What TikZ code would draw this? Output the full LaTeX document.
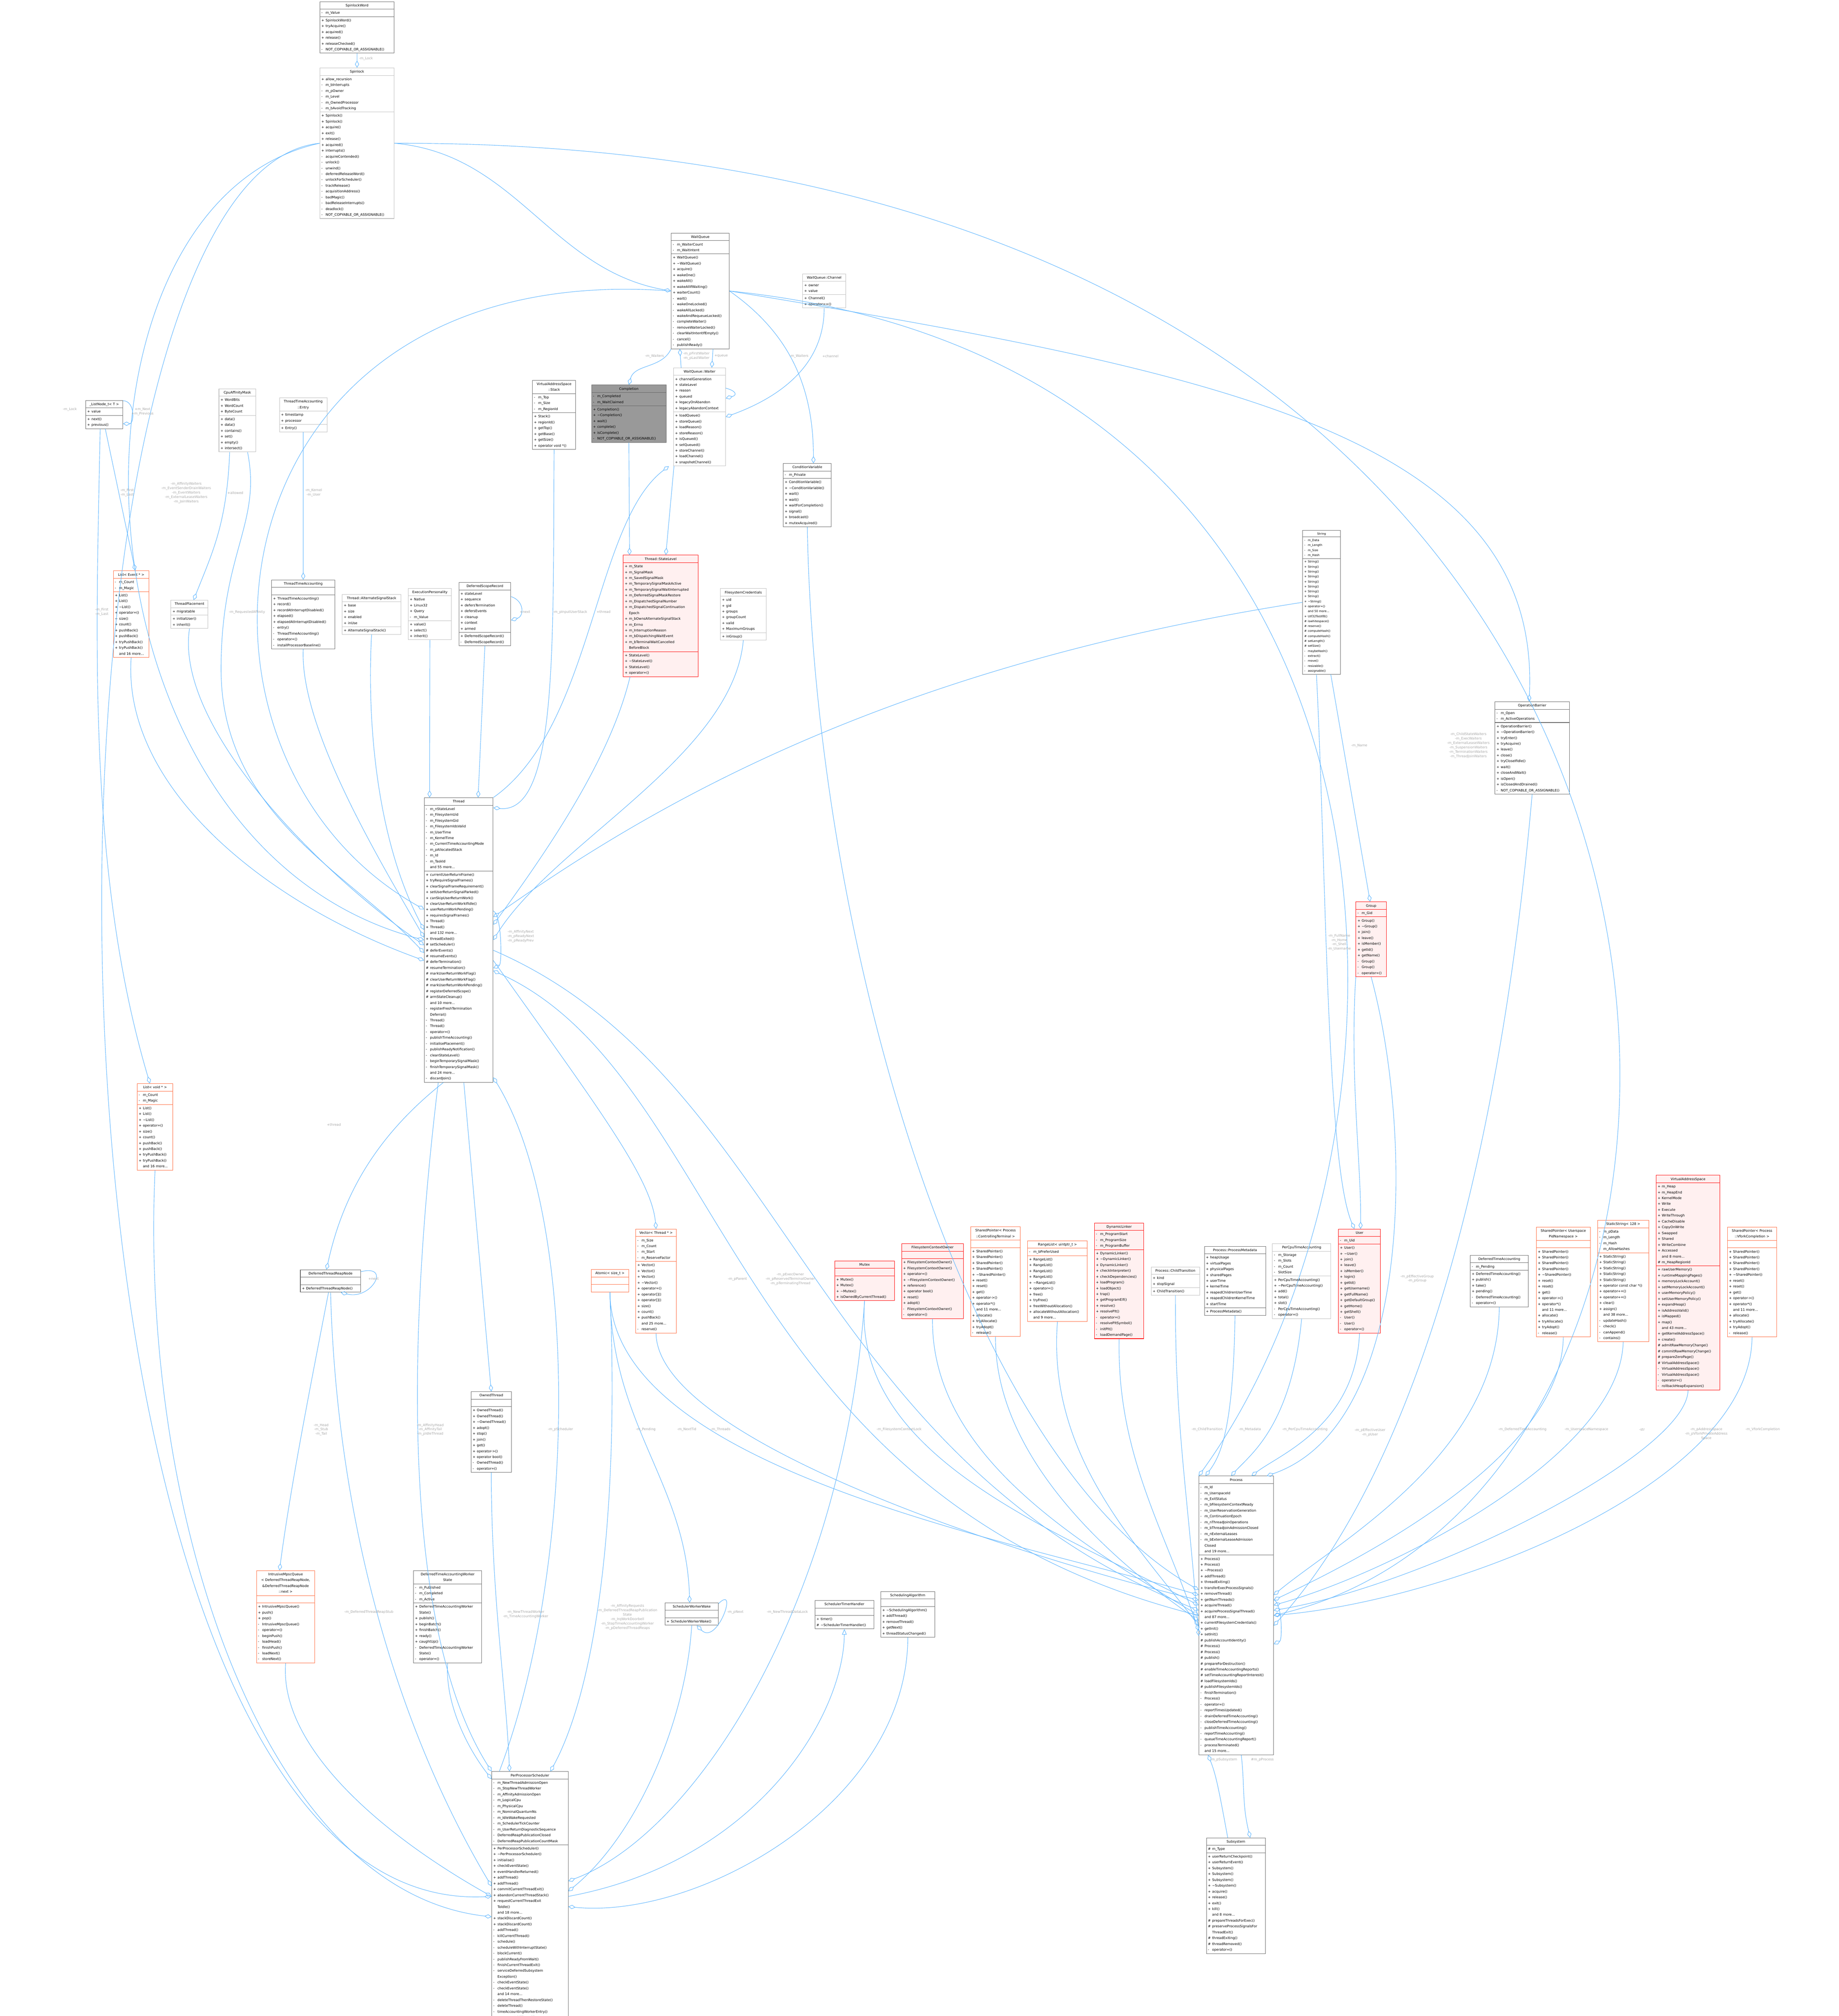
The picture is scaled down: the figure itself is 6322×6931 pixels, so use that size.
\documentclass[tikz,border=0pt]{standalone}
\usepackage{fontspec}
\setmainfont{DejaVu Sans}
\usetikzlibrary{shapes.multipart,arrows.meta}
\definecolor{edgeblue}{HTML}{63B8FF}
\definecolor{lblgray}{HTML}{A8A8A8}
\definecolor{dkgray}{HTML}{666666}
\definecolor{ltgray}{HTML}{BFBFBF}
\definecolor{redfill}{HTML}{FFF0F0}
\definecolor{orng}{HTML}{FF6A3D}
\definecolor{hlgray}{HTML}{999999}
\newcommand\rw[2]{\noindent\strut\makebox[1.25em][l]{#1}#2\par}
\newcommand\Pa[1]{\rw{+}{#1}}
\newcommand\Mi[1]{\rw{-}{#1}}
\newcommand\Ha[1]{\rw{\#}{#1}}
\newcommand\No[1]{\rw{}{#1}}
\newcommand\tld{\textasciitilde}
\newcommand\ttl[1]{\noindent\strut\makebox[\hsize][c]{#1}\par}
\newcommand\cls[8]{\pgfmathsetmacro\tw{0.02*#5-0.22}\node[#2,text width=\tw cm] (#1) at (#3,#4) {#6\nodepart{two}#7\nodepart{three}#8};}
\tikzset{
 cbase/.style={rectangle split, rectangle split parts=3, draw, line width=0.8pt, inner xsep=3pt, inner ysep=1.2pt, anchor=north west, font=\fontsize{6.6}{11.4}\selectfont, text=black},
 dk/.style={cbase, draw=dkgray},
 lt/.style={cbase, draw=ltgray},
 rd/.style={cbase, draw=red, fill=redfill},
 og/.style={cbase, draw=orng},
 hl/.style={cbase, draw=dkgray, fill=hlgray},
 sm/.style={font=\fontsize{5.7}{9.7}\selectfont},
 agg/.style={draw=edgeblue, line width=0.9pt, -{Diamond[open,length=14pt,width=8pt,line width=0.9pt]}},
 inh/.style={draw=edgeblue, line width=0.9pt, -{Triangle[open,length=11pt,width=9pt,line width=0.9pt]}},
 lbl/.style={text=lblgray, font=\fontsize{6.6}{8.6}\selectfont, align=center, inner sep=1pt},
}
\begin{document}
\catcode`\_=12
\begin{tikzpicture}[x=0.02cm,y=-0.02cm]
\useasboundingbox (0,0) rectangle (6322,6931);
\fill[white] (0,0) rectangle (6322,6931);

% ---------------- classes ----------------
\cls{SW}{dk}{1099}{5}{256}{\ttl{SpinlockWord}}{\Mi{m_Value}}{\Pa{SpinlockWord()}\Pa{tryAcquire()}\Pa{acquired()}\Pa{release()}\Pa{releaseChecked()}\Mi{NOT_COPYABLE_OR_ASSIGNABLE()}}
\cls{SL}{lt}{1099}{233}{256}{\ttl{Spinlock}}{\Pa{allow_recursion}\Mi{m_bInterrupts}\Mi{m_pOwner}\Mi{m_Level}\Mi{m_OwnedProcessor}\Mi{m_bAvoidTracking}}{\Pa{Spinlock()}\Pa{Spinlock()}\Pa{acquire()}\Pa{exit()}\Pa{release()}\Pa{acquired()}\Pa{interrupts()}\Mi{acquireContended()}\Mi{unlock()}\Mi{unwind()}\Mi{deferredReleaseWord()}\Mi{unlockForScheduler()}\Mi{trackRelease()}\Mi{acquisitionAddress()}\Mi{badMagic()}\Mi{badReleaseInterrupts()}\Mi{deadlock()}\Mi{NOT_COPYABLE_OR_ASSIGNABLE()}}
\cls{WQ}{dk}{2307}{801}{200}{\ttl{WaitQueue}}{\Mi{m_WaiterCount}\Mi{m_WaitIntent}}{\Pa{WaitQueue()}\Pa{\tld WaitQueue()}\Pa{acquire()}\Pa{wakeOne()}\Pa{wakeAll()}\Pa{wakeAllIfWaiting()}\Pa{waiterCount()}\Mi{wait()}\Mi{wakeOneLocked()}\Mi{wakeAllLocked()}\Mi{wakeAndRequeueLocked()}\Mi{completeWaiter()}\Mi{removeWaiterLocked()}\Mi{clearWaitIntentIfEmpty()}\Mi{cancel()}\Mi{publishReady()}}
\cls{CH}{lt}{2759}{941}{148}{\ttl{WaitQueue::Channel}}{\Pa{owner}\Pa{value}}{\Pa{Channel()}\Pa{operator==()}}
\cls{WW}{lt}{2315}{1264}{179}{\ttl{WaitQueue::Waiter}}{\Pa{channelGeneration}\Pa{stateLevel}\Pa{reason}\Pa{queued}\Pa{legacyOnAbandon}\Pa{legacyAbandonContext}}{\Pa{loadQueue()}\Pa{storeQueue()}\Pa{loadReason()}\Pa{storeReason()}\Pa{isQueued()}\Pa{setQueued()}\Pa{storeChannel()}\Pa{loadChannel()}\Pa{snapshotChannel()}}
\cls{CO}{hl}{2033}{1323}{257}{\ttl{Completion}}{\Mi{m_Completed}\Mi{m_WaitClaimed}}{\Pa{Completion()}\Pa{\tld Completion()}\Pa{wait()}\Pa{complete()}\Pa{isComplete()}\Mi{NOT_COPYABLE_OR_ASSIGNABLE()}}
\cls{ST}{dk}{1830}{1307}{149}{\ttl{VirtualAddressSpace}\ttl{::Stack}}{\Mi{m_Top}\Mi{m_Size}\Mi{m_RegionId}}{\Pa{Stack()}\Pa{regionId()}\Pa{getTop()}\Pa{getBase()}\Pa{getSize()}\Pa{operator void *()}}
\cls{LN}{dk}{294}{1376}{128}{\ttl{_ListNode_t< T >}}{\Pa{value}}{\Pa{next()}\Pa{previous()}}
\cls{CAM}{lt}{752}{1336}{127}{\ttl{CpuAffinityMask}}{\Pa{WordBits}\Pa{WordCount}\Pa{ByteCount}}{\Pa{data()}\Pa{data()}\Pa{contains()}\Pa{set()}\Pa{empty()}\Pa{intersect()}}
\cls{EN}{lt}{960}{1367}{164}{\ttl{ThreadTimeAccounting}\ttl{::Entry}}{\Pa{timestamp}\Pa{processor}}{\Pa{Entry()}}
\cls{LE}{og}{389}{1962}{123}{\ttl{List< Event * >}}{\Mi{m_Count}\Mi{m_Magic}}{\Pa{List()}\Pa{List()}\Pa{\tld List()}\Pa{operator=()}\Pa{size()}\Pa{count()}\Pa{pushBack()}\Pa{pushBack()}\Pa{tryPushBack()}\Pa{tryPushBack()}\No{and 16 more...}}
\cls{LV}{og}{471}{3725}{123}{\ttl{List< void * >}}{\Mi{m_Count}\Mi{m_Magic}}{\Pa{List()}\Pa{List()}\Pa{\tld List()}\Pa{operator=()}\Pa{size()}\Pa{count()}\Pa{pushBack()}\Pa{pushBack()}\Pa{tryPushBack()}\Pa{tryPushBack()}\No{and 16 more...}}
\cls{TP}{lt}{587}{2063}{128}{\ttl{ThreadPlacement}}{\Pa{migratable}}{\Pa{initialUser()}\Pa{inherit()}}
\cls{TTA}{dk}{933}{1993}{218}{\ttl{ThreadTimeAccounting}}{\No{}}{\Pa{ThreadTimeAccounting()}\Pa{record()}\Pa{recordAtInterruptDisabled()}\Pa{elapsed()}\Pa{elapsedAtInterruptDisabled()}\Mi{entry()}\Mi{ThreadTimeAccounting()}\Mi{operator=()}\Mi{installProcessorBaseline()}}
\cls{ASS}{lt}{1176}{2043}{202}{\ttl{Thread::AlternateSignalStack}}{\Pa{base}\Pa{size}\Pa{enabled}\Pa{inUse}}{\Pa{AlternateSignalStack()}}
\cls{EP}{lt}{1403}{2022}{149}{\ttl{ExecutionPersonality}}{\Pa{Native}\Pa{Linux32}\Pa{Query}\Mi{m_Value}}{\Pa{value()}\Pa{select()}\Pa{inherit()}}
\cls{DSR}{dk}{1577}{2002}{179}{\ttl{DeferredScopeRecord}}{\Pa{stateLevel}\Pa{sequence}\Pa{defersTermination}\Pa{defersEvents}\Pa{cleanup}\Pa{context}\Pa{armed}}{\Pa{DeferredScopeRecord()}\Mi{DeferredScopeRecord()}}
\cls{SLV}{rd}{2142}{1908}{258}{\ttl{Thread::StateLevel}}{\Pa{m_State}\Pa{m_SignalMask}\Pa{m_SavedSignalMask}\Pa{m_TemporarySignalMaskActive}\Pa{m_TemporarySignalWaitInterrupted}\Pa{m_DeferredSignalMaskRestore}\Pa{m_DispatchedSignalNumber}\Pa{m_DispatchedSignalContinuation}\No{Epoch}\Pa{m_bOwnsAlternateSignalStack}\Pa{m_Errno}\Pa{m_InterruptionReason}\Pa{m_bDispatchingWaitEvent}\Pa{m_bTerminalWaitCancelled}\No{BeforeBlock}}{\Pa{StateLevel()}\Pa{\tld StateLevel()}\Pa{StateLevel()}\Pa{operator=()}}
\cls{FC}{lt}{2476}{2023}{158}{\ttl{FilesystemCredentials}}{\Pa{uid}\Pa{gid}\Pa{groups}\Pa{groupCount}\Pa{valid}\Pa{MaximumGroups}}{\Pa{inGroup()}}
\cls{CV}{dk}{2692}{1593}{166}{\ttl{ConditionVariable}}{\Mi{m_Private}}{\Pa{ConditionVariable()}\Pa{\tld ConditionVariable()}\Pa{wait()}\Pa{wait()}\Pa{waitForCompletion()}\Pa{signal()}\Pa{broadcast()}\Pa{mutexAcquired()}}
\cls{STR}{dk,sm}{4478}{1823}{130}{\ttl{String}}{\Mi{m_Data}\Mi{m_Length}\Mi{m_Size}\Mi{m_Hash}}{\Pa{String()}\Pa{String()}\Pa{String()}\Pa{String()}\Pa{String()}\Pa{String()}\Pa{String()}\Pa{String()}\Pa{\tld String()}\Pa{operator=()}\No{and 50 more...}\Pa{Utf32ToUtf8()}\Ha{iswhitespace()}\Ha{reserve()}\Ha{computeHash()}\Ha{computeHash()}\Ha{setLength()}\Ha{setSize()}\Mi{maybeHash()}\Mi{extract()}\Mi{move()}\Mi{resizable()}\Mi{assignable()}}
\cls{OB}{dk}{5139}{2412}{256}{\ttl{OperationBarrier}}{\Mi{m_Open}\Mi{m_ActiveOperations}}{\Pa{OperationBarrier()}\Pa{\tld OperationBarrier()}\Pa{tryEnter()}\Pa{tryAcquire()}\Pa{leave()}\Pa{close()}\Pa{tryCloseIfIdle()}\Pa{wait()}\Pa{closeAndWait()}\Pa{isOpen()}\Pa{isClosedAndDrained()}\Mi{NOT_COPYABLE_OR_ASSIGNABLE()}}
\cls{GR}{rd}{4661}{3100}{105}{\ttl{Group}}{\Mi{m_Gid}}{\Pa{Group()}\Pa{\tld Group()}\Pa{join()}\Pa{leave()}\Pa{isMember()}\Pa{getId()}\Pa{getName()}\Mi{Group()}\Mi{Group()}\Mi{operator=()}}
\cls{TH}{dk}{1458}{2742}{237}{\ttl{Thread}}{\Mi{m_nStateLevel}\Mi{m_FilesystemUid}\Mi{m_FilesystemGid}\Mi{m_FilesystemIdsValid}\Mi{m_UserTime}\Mi{m_KernelTime}\Mi{m_CurrentTimeAccountingMode}\Mi{m_pAllocatedStack}\Mi{m_Id}\Mi{m_TaskId}\No{and 55 more...}}{\Pa{currentUserReturnFrame()}\Pa{tryRequireSignalFrames()}\Pa{clearSignalFrameRequirement()}\Pa{setUserReturnSignalParked()}\Pa{canSkipUserReturnWork()}\Pa{clearUserReturnWorkIfIdle()}\Pa{userReturnWorkPending()}\Pa{requiresSignalFrames()}\Pa{Thread()}\Pa{Thread()}\No{and 132 more...}\Pa{threadExited()}\Ha{setScheduler()}\Ha{deferEvents()}\Ha{resumeEvents()}\Ha{deferTermination()}\Ha{resumeTermination()}\Ha{markUserReturnWorkFlag()}\Ha{clearUserReturnWorkFlag()}\Ha{markUserReturnWorkPending()}\Ha{registerDeferredScope()}\Ha{armStateCleanup()}\No{and 10 more...}\Mi{registerFreshTermination}\No{Deferral()}\Mi{Thread()}\Mi{Thread()}\Mi{operator=()}\Mi{publishTimeAccounting()}\Mi{initialisePlacement()}\Mi{publishReadyNotification()}\Mi{cleanStateLevel()}\Mi{beginTemporarySignalMask()}\Mi{finishTemporarySignalMask()}\No{and 24 more...}\Mi{discardJoin()}}
\cls{DTRN}{dk}{1032}{4365}{208}{\ttl{DeferredThreadReapNode}}{\No{}}{\Pa{DeferredThreadReapNode()}}
\cls{AT}{og}{2032}{4364}{129}{\ttl{Atomic< size_t >}}{\No{}}{\No{}}
\cls{VT}{og}{2185}{4225}{140}{\ttl{Vector< Thread * >}}{\Mi{m_Size}\Mi{m_Count}\Mi{m_Start}\Mi{m_ReserveFactor}}{\Pa{Vector()}\Pa{Vector()}\Pa{Vector()}\Pa{\tld Vector()}\Pa{operator=()}\Pa{operator[]()}\Pa{operator[]()}\Pa{size()}\Pa{count()}\Pa{pushBack()}\No{and 25 more...}\Mi{reserve()}}
\cls{MX}{rd}{2869}{4334}{206}{\ttl{Mutex}}{\No{}}{\Pa{Mutex()}\Pa{Mutex()}\Pa{\tld Mutex()}\Pa{isOwnedByCurrentThread()}}
\cls{FCO}{rd}{3099}{4275}{213}{\ttl{FilesystemContextOwner}}{\No{}}{\Pa{FilesystemContextOwner()}\Pa{FilesystemContextOwner()}\Pa{operator=()}\Pa{\tld FilesystemContextOwner()}\Pa{reference()}\Pa{operator bool()}\Pa{reset()}\Pa{adopt()}\Mi{FilesystemContextOwner()}\Mi{operator=()}}
\cls{SPCT}{og}{3336}{4217}{172}{\ttl{SharedPointer< Process}\ttl{::ControllingTerminal >}}{\No{}}{\Pa{SharedPointer()}\Pa{SharedPointer()}\Pa{SharedPointer()}\Pa{SharedPointer()}\Pa{\tld SharedPointer()}\Pa{reset()}\Pa{reset()}\Pa{get()}\Pa{operator->()}\Pa{operator*()}\No{and 11 more...}\Pa{allocate()}\Pa{tryAllocate()}\Pa{tryAdopt()}\Mi{release()}}
\cls{RL}{og}{3532}{4265}{206}{\ttl{RangeList< uintptr_t >}}{\Mi{m_bPreferUsed}}{\Pa{RangeList()}\Pa{RangeList()}\Pa{RangeList()}\Pa{RangeList()}\Pa{\tld RangeList()}\Pa{operator=()}\Pa{free()}\Pa{tryFree()}\Pa{freeWithoutAllocation()}\Pa{allocateWithoutAllocation()}\No{and 9 more...}}
\cls{DL}{rd}{3762}{4204}{170}{\ttl{DynamicLinker}}{\Mi{m_ProgramStart}\Mi{m_ProgramSize}\Mi{m_ProgramBuffer}}{\Pa{DynamicLinker()}\Pa{\tld DynamicLinker()}\Pa{DynamicLinker()}\Pa{checkInterpreter()}\Pa{checkDependencies()}\Pa{loadProgram()}\Pa{loadObject()}\Pa{trap()}\Pa{getProgramElf()}\Pa{resolve()}\Pa{resolvePlt()}\Mi{operator=()}\Mi{resolvePltSymbol()}\Mi{initPlt()}\Mi{loadDemandPage()}}
\cls{CT}{lt}{3957}{4355}{167}{\ttl{Process::ChildTransition}}{\Pa{kind}\Pa{stopSignal}}{\Pa{ChildTransition()}}
\cls{PM}{dk}{4140}{4284}{211}{\ttl{Process::ProcessMetadata}}{\Pa{heapUsage}\Pa{virtualPages}\Pa{physicalPages}\Pa{sharedPages}\Pa{userTime}\Pa{kernelTime}\Pa{reapedChildrenUserTime}\Pa{reapedChildrenKernelTime}\Pa{startTime}}{\Pa{ProcessMetadata()}}
\cls{PC}{lt}{4374}{4275}{201}{\ttl{PerCpuTimeAccounting}}{\Mi{m_Storage}\Mi{m_Slots}\Mi{m_Count}\Mi{SlotSize}}{\Pa{PerCpuTimeAccounting()}\Pa{\tld PerCpuTimeAccounting()}\Pa{add()}\Pa{total()}\Pa{slot()}\Mi{PerCpuTimeAccounting()}\Mi{operator=()}}
\cls{US}{rd}{4601}{4225}{145}{\ttl{User}}{\Mi{m_Uid}}{\Pa{User()}\Pa{\tld User()}\Pa{join()}\Pa{leave()}\Pa{isMember()}\Pa{login()}\Pa{getId()}\Pa{getUsername()}\Pa{getFullName()}\Pa{getDefaultGroup()}\Pa{getHome()}\Pa{getShell()}\Mi{User()}\Mi{User()}\Mi{operator=()}}
\cls{DTA}{dk}{5054}{4315}{200}{\ttl{DeferredTimeAccounting}}{\Mi{m_Pending}}{\Pa{DeferredTimeAccounting()}\Pa{publish()}\Pa{take()}\Pa{pending()}\Mi{DeferredTimeAccounting()}\Mi{operator=()}}
\cls{SPUP}{og}{5281}{4218}{186}{\ttl{SharedPointer< Userspace}\ttl{PidNamespace >}}{\No{}}{\Pa{SharedPointer()}\Pa{SharedPointer()}\Pa{SharedPointer()}\Pa{SharedPointer()}\Pa{\tld SharedPointer()}\Pa{reset()}\Pa{reset()}\Pa{get()}\Pa{operator->()}\Pa{operator*()}\No{and 11 more...}\Pa{allocate()}\Pa{tryAllocate()}\Pa{tryAdopt()}\Mi{release()}}
\cls{SS}{og}{5492}{4195}{176}{\ttl{StaticString< 128 >}}{\Mi{m_pData}\Mi{m_Length}\Mi{m_Hash}\Mi{m_AllowHashes}}{\Pa{StaticString()}\Pa{StaticString()}\Pa{StaticString()}\Pa{StaticString()}\Pa{StaticString()}\Pa{operator const char *()}\Pa{operator+=()}\Pa{operator+=()}\Pa{clear()}\Pa{assign()}\No{and 38 more...}\Mi{updateHash()}\Mi{check()}\Mi{canAppend()}\Mi{contains()}}
\cls{VAS}{rd}{5693}{4040}{220}{\ttl{VirtualAddressSpace}}{\Pa{m_Heap}\Pa{m_HeapEnd}\Pa{KernelMode}\Pa{Write}\Pa{Execute}\Pa{WriteThrough}\Pa{CacheDisable}\Pa{CopyOnWrite}\Pa{Swapped}\Pa{Shared}\Pa{WriteCombine}\Pa{Accessed}\No{and 8 more...}\Ha{m_HeapRegionId}}{\Pa{rawUserMemory()}\Pa{runtimeMappingPages()}\Pa{memoryLockAccount()}\Pa{setMemoryLockAccount()}\Pa{userMemoryPolicy()}\Pa{setUserMemoryPolicy()}\Pa{expandHeap()}\Pa{isAddressValid()}\Pa{isMapped()}\Pa{map()}\No{and 43 more...}\Pa{getKernelAddressSpace()}\Pa{create()}\Ha{admitRawMemoryChange()}\Ha{commitRawMemoryChange()}\Ha{prepareZeroPage()}\Ha{VirtualAddressSpace()}\Mi{VirtualAddressSpace()}\Mi{VirtualAddressSpace()}\Mi{operator=()}\Mi{rollbackHeapExpansion()}}
\cls{SPVC}{og}{5938}{4218}{170}{\ttl{SharedPointer< Process}\ttl{::VforkCompletion >}}{\No{}}{\Pa{SharedPointer()}\Pa{SharedPointer()}\Pa{SharedPointer()}\Pa{SharedPointer()}\Pa{\tld SharedPointer()}\Pa{reset()}\Pa{reset()}\Pa{get()}\Pa{operator->()}\Pa{operator*()}\No{and 11 more...}\Pa{allocate()}\Pa{tryAllocate()}\Pa{tryAdopt()}\Mi{release()}}
\cls{OT}{dk}{1619}{4784}{139}{\ttl{OwnedThread}}{\No{}}{\Pa{OwnedThread()}\Pa{OwnedThread()}\Pa{\tld OwnedThread()}\Pa{adopt()}\Pa{stop()}\Pa{join()}\Pa{get()}\Pa{operator->()}\Pa{operator bool()}\Mi{OwnedThread()}\Mi{operator=()}}
\cls{IMQ}{og}{881}{5399}{201}{\ttl{IntrusiveMpscQueue}\ttl{< DeferredThreadReapNode,}\ttl{\&DeferredThreadReapNode}\ttl{::next >}}{\No{}}{\Pa{IntrusiveMpscQueue()}\Pa{push()}\Pa{pop()}\Mi{IntrusiveMpscQueue()}\Mi{operator=()}\Mi{beginPush()}\Mi{loadHead()}\Mi{finishPush()}\Mi{loadNext()}\Mi{storeNext()}}
\cls{DTAW}{dk}{1421}{5399}{235}{\ttl{DeferredTimeAccountingWorker}\ttl{State}}{\Mi{m_Published}\Mi{m_Completed}\Mi{m_Active}}{\Pa{DeferredTimeAccountingWorker}\No{State()}\Pa{publish()}\Pa{beginBatch()}\Pa{finishBatch()}\Pa{ready()}\Pa{caughtUp()}\Mi{DeferredTimeAccountingWorker}\No{State()}\Mi{operator=()}}
\cls{SWW}{dk}{2286}{5510}{183}{\ttl{SchedulerWorkerWake}}{\No{}}{\Pa{SchedulerWorkerWake()}}
\cls{STH}{dk}{2801}{5502}{203}{\ttl{SchedulerTimerHandler}}{\No{}}{\Pa{timer()}\Ha{\tld SchedulerTimerHandler()}}
\cls{SA}{dk}{3027}{5471}{187}{\ttl{SchedulingAlgorithm}}{\No{}}{\Pa{\tld SchedulingAlgorithm()}\Pa{addThread()}\Pa{removeThread()}\Pa{getNext()}\Pa{threadStatusChanged()}}
\cls{PR}{dk}{4121}{5074}{257}{\ttl{Process}}{\Mi{m_Id}\Mi{m_UserspaceId}\Mi{m_ExitStatus}\Mi{m_bFilesystemContextReady}\Mi{m_UserReservationGeneration}\Mi{m_ContinuationEpoch}\Mi{m_nThreadJoinOperations}\Mi{m_bThreadJoinAdmissionClosed}\Mi{m_nExternalLeases}\Mi{m_bExternalLeaseAdmission}\No{Closed}\No{and 19 more...}}{\Pa{Process()}\Pa{Process()}\Pa{\tld Process()}\Pa{addThread()}\Pa{threadExiting()}\Pa{transferExecProcessSignals()}\Pa{removeThread()}\Pa{getNumThreads()}\Pa{acquireThread()}\Pa{acquireProcessSignalThread()}\No{and 87 more...}\Pa{currentFilesystemCredentials()}\Pa{getInit()}\Pa{setInit()}\Ha{publishAccountIdentity()}\Ha{Process()}\Ha{Process()}\Ha{publish()}\Ha{prepareForDestruction()}\Ha{enableTimeAccountingReports()}\Ha{setTimeAccountingReportInterest()}\Ha{loadFilesystemIds()}\Ha{publishFilesystemIds()}\Mi{finishTermination()}\Mi{Process()}\Mi{operator=()}\Mi{reportTimesUpdated()}\Mi{drainDeferredTimeAccounting()}\Mi{closeDeferredTimeAccounting()}\Mi{publishTimeAccounting()}\Mi{reportTimeAccounting()}\Mi{queueTimeAccountingReport()}\Mi{processTerminated()}\No{and 15 more...}}
\cls{PPS}{dk}{1690}{6090}{263}{\ttl{PerProcessorScheduler}}{\Mi{m_NewThreadAdmissionOpen}\Mi{m_StopNewThreadWorker}\Mi{m_AffinityAdmissionOpen}\Mi{m_LogicalCpu}\Mi{m_PhysicalCpu}\Mi{m_NominalQuantumNs}\Mi{m_IdleWakeRequested}\Mi{m_SchedulerTickCounter}\Mi{m_UserReturnDiagnosticSequence}\Mi{DeferredReapPublicationClosed}\Mi{DeferredReapPublicationCountMask}}{\Pa{PerProcessorScheduler()}\Pa{\tld PerProcessorScheduler()}\Pa{initialise()}\Pa{checkEventState()}\Pa{eventHandlerReturned()}\Pa{addThread()}\Pa{addThread()}\Pa{commitCurrentThreadExit()}\Pa{abandonCurrentThreadStack()}\Pa{requestCurrentThreadExit}\No{ToIdle()}\No{and 18 more...}\Pa{stackDiscardCount()}\Pa{stackDiscardCount()}\Mi{addThread()}\Mi{killCurrentThread()}\Mi{schedule()}\Mi{scheduleWithInterruptState()}\Mi{blockCurrent()}\Mi{publishReadyFromWait()}\Mi{finishCurrentThreadExit()}\Mi{serviceDeferredSubsystem}\No{Exception()}\Mi{checkEventState()}\Mi{checkEventState()}\No{and 14 more...}\Mi{deleteThreadThenRestoreState()}\Mi{deleteThread()}\Mi{timeAccountingWorkerEntry()}\Mi{processorAddThread()}}
\cls{SUB}{dk}{4147}{6318}{203}{\ttl{Subsystem}}{\Ha{m_Type}}{\Pa{userReturnCheckpoint()}\Pa{userReturnEvent()}\Pa{Subsystem()}\Pa{Subsystem()}\Pa{Subsystem()}\Pa{\tld Subsystem()}\Pa{acquire()}\Pa{release()}\Pa{exit()}\Pa{kill()}\No{and 8 more...}\Ha{prepareThreadsForExec()}\Ha{preserveProcessSignalsFor}\No{ThreadExit()}\Ha{threadExiting()}\Ha{threadRemoved()}\Mi{operator=()}}

% ---------------- connectors ----------------
\draw[agg] (SW) -- (SL);
\draw[agg] (SL.east) to[out=-5,in=170] (WQ.west);
\draw[agg] (SL.west) .. controls (150,700) and (200,2900) .. (TH.west);
\draw[agg] (SL.west) .. controls (20,600) and (20,6600) .. (PPS.west);
\draw[agg] (SL.east) .. controls (6290,480) and (6290,5100) .. (PR.east);
\draw[agg] (WQ.south west) to[out=245,in=75] (CO.north);
\draw[agg] ([xshift=-36pt]WW.north) -- ([xshift=-40pt]WQ.south);
\draw[agg] ([xshift=25pt]WQ.south) -- ([xshift=24pt]WW.north);
\draw[agg] (CH.south) to[out=-90,in=20] (WW.east);
\draw[agg] ([yshift=-40pt]WW.north east) .. controls +(22pt,-6pt) and +(22pt,6pt) .. ([yshift=-60pt]WW.north east);
\draw[agg] (WQ.west) .. controls (700,880) and (520,2600) .. ([yshift=60pt]TH.west);
\draw[agg] (WQ.east) to[out=-35,in=90] ([xshift=12pt]CV.north);
\draw[agg] (WQ.east) .. controls (4200,1280) and (5300,1500) .. ([xshift=-6pt]OB.north);
\draw[agg] (WQ.east) .. controls (4966,1250) and (4966,3900) .. (PR.north west);
\draw[agg] (ST.south) .. controls (1900,2200) and (1920,2800) .. ([yshift=-20pt]TH.north east);
\draw[agg] (TH.north east) .. controls (2040,2500) and (2040,1800) .. ([xshift=-60pt]WW.south);
\draw[agg] (CO.south) -- ([xshift=-61pt]SLV.north);
\draw[agg] ([xshift=-50pt]WW.south) -- ([xshift=10pt]SLV.north);
\draw[agg] ([xshift=-60pt]SLV.south) .. controls (2100,2600) and (1900,2900) .. ([yshift=30pt]TH.east);
\draw[agg] (DSR.south) -- ([xshift=38pt]TH.north);
\draw[agg] ([yshift=-28pt]DSR.north east) .. controls +(26pt,-8pt) and +(26pt,8pt) .. ([yshift=-12pt]DSR.east);
\draw[agg] (EP.south) -- ([xshift=-57pt]TH.north);
\draw[agg] (ASS.south) .. controls (1260,2500) and (1300,2900) .. ([yshift=20pt]TH.west);
\draw[agg] (EN) -- (TTA);
\draw[agg] (TTA.south) .. controls (1030,2500) and (1300,2950) .. ([yshift=5pt]TH.west);
\draw[agg] (TP.south) .. controls (600,2500) and (1100,3000) .. ([yshift=-10pt]TH.west);
\draw[agg] ([xshift=-15pt]CAM.south) .. controls (780,1800) and (730,1900) .. ([xshift=8pt]TP.north);
\draw[agg] ([xshift=20pt]CAM.south) .. controls (900,1800) and (760,1900) .. (760,2300) .. controls (760,2800) and (1200,3000) .. ([yshift=-25pt]TH.west);
\draw[agg] ([xshift=-8pt]LN.south) .. controls (330,2200) and (300,3000) .. ([xshift=-10pt]LV.north);
\draw[agg] ([xshift=2pt]LN.south) -- ([xshift=8pt]LE.north);
\draw[agg] ([yshift=-1pt]LN.north east) .. controls +(24pt,0pt) and +(22pt,0pt) .. ([yshift=10pt]LN.south east);
\draw[agg] (LE.south) .. controls (420,2700) and (900,3100) .. ([yshift=-40pt]TH.west);
\draw[agg] (LV.south) .. controls (480,5200) and (900,6500) .. ([yshift=-40pt]PPS.west);
\draw[agg] ([xshift=-30pt]TH.south) .. controls (1300,3900) and (1180,4100) .. ([xshift=-8pt]DTRN.north);
\draw[agg] ([yshift=-4pt]DTRN.north east) .. controls +(60pt,15pt) and +(60pt,-15pt) .. ([xshift=20pt]DTRN.south);
\draw[agg] ([xshift=-4pt]DTRN.south) .. controls (1080,4700) and (1000,5100) .. ([xshift=-12pt]IMQ.north);
\draw[agg] (DTRN.south) .. controls (1160,5300) and (1400,6000) .. ([yshift=20pt]PPS.west);
\draw[agg] ([xshift=-40pt]TH.south) .. controls (1400,4600) and (1380,5600) .. (PPS.north west);
\draw[agg] ([xshift=-60pt]PPS.north) .. controls (1980,5400) and (2000,4200) .. ([yshift=10pt]TH.south east);
\draw[agg] ([xshift=10pt]TH.south) -- (OT.north);
\draw[agg] (OT.south) .. controls (1690,5500) and (1740,5800) .. ([xshift=-40pt]PPS.north);
\draw[agg] (IMQ.south) .. controls (960,6000) and (1300,6300) .. (PPS.west);
\draw[agg] (DTAW.south) .. controls (1530,5850) and (1600,6000) .. ([yshift=-15pt]PPS.north west);
\draw[agg] (AT.south) .. controls (2100,4900) and (2360,5100) .. ([xshift=-4pt]SWW.north);
\draw[agg] (AT.south) .. controls (2130,5200) and (2050,5800) .. ([xshift=40pt]PPS.north);
\draw[agg] (AT.south) .. controls (2100,5050) and (3500,5300) .. ([yshift=40pt]PR.west);
\draw[agg] (VT.south) .. controls (2260,4950) and (3500,5350) .. ([yshift=30pt]PR.west);
\draw[agg] ([yshift=-40pt]TH.east) .. controls (2050,3800) and (2240,4050) .. (VT.north);
\draw[agg] (PR.west) .. controls (2500,5150) and (2500,3700) .. ([yshift=-60pt]TH.east);
\draw[agg] ([yshift=-20pt]TH.east) .. controls (2700,3700) and (2780,5000) .. ([yshift=10pt]PR.west);
\draw[agg] ([yshift=57pt]TH.east) .. controls +(17pt,-8pt) and +(17pt,8pt) .. ([yshift=-55pt]TH.east);
\draw[agg] (MX.south) .. controls (2930,5000) and (3600,5250) .. ([yshift=20pt]PR.west);
\draw[agg] (MX.south) .. controls (2900,5500) and (2400,6300) .. ([yshift=30pt]PPS.east);
\draw[agg] (SWW.south) .. controls (2360,5900) and (2200,6300) .. ([yshift=10pt]PPS.east);
\draw[agg] ([yshift=-2pt]SWW.north east) .. controls +(40pt,40pt) and +(40pt,-40pt) .. ([xshift=10pt]SWW.south);
\draw[inh] (PPS.east) .. controls (2600,6400) and (2900,5900) .. (STH.south);
\draw[agg] (SA.south) .. controls (3120,6200) and (2400,6600) .. ([yshift=-20pt]PPS.east);
\draw[agg] (FCO.south) .. controls (3200,5000) and (3700,5300) .. ([yshift=0pt]PR.west);
\draw[agg] (SPCT.south) .. controls (3420,5000) and (3800,5350) .. ([yshift=-10pt]PR.west);
\draw[agg] (RL.south) .. controls (3600,5000) and (3900,5300) .. ([yshift=-20pt]PR.west);
\draw[agg] (DL.south) .. controls (3840,5000) and (4000,5250) .. ([yshift=-30pt]PR.west);
\draw[agg] (CT.south) .. controls (4040,4900) and (4080,5100) .. ([yshift=-40pt]PR.west);
\draw[agg] (PM.south) .. controls (4240,4900) and (4200,5000) .. ([xshift=-60pt]PR.north);
\draw[agg] (PC.south) .. controls (4440,4900) and (4300,5000) .. ([xshift=-10pt]PR.north);
\draw[agg] (US.south) .. controls (4660,4900) and (4400,5000) .. ([xshift=30pt]PR.north);
\draw[agg] (GR.south) .. controls (4860,3900) and (4860,4900) .. ([xshift=60pt]PR.north);
\draw[agg] (DTA.south) .. controls (5150,5000) and (4600,5300) .. ([yshift=40pt]PR.east);
\draw[agg] (SPUP.south) .. controls (5370,5000) and (4700,5350) .. ([yshift=30pt]PR.east);
\draw[agg] (SS.south) .. controls (5570,5000) and (4800,5400) .. ([yshift=20pt]PR.east);
\draw[agg] (VAS.south) .. controls (5800,5000) and (4900,5450) .. ([yshift=10pt]PR.east);
\draw[agg] (SPVC.south) .. controls (6020,5100) and (5000,5500) .. ([yshift=0pt]PR.east);
\draw[agg] (OB.south) .. controls (5200,3500) and (5000,4900) .. ([yshift=-20pt]PR.east);
\draw[agg] ([xshift=-10pt]STR.south) .. controls (4560,3000) and (4560,4000) .. ([xshift=-10pt]US.north);
\draw[agg] ([xshift=18pt]STR.south) -- ([xshift=-2pt]GR.north);
\draw[agg] (GR.south west) .. controls (4640,3700) and (4680,4000) .. ([xshift=2pt]US.north);
\draw[agg] (STR.west) .. controls (3000,2300) and (2200,2800) .. ([yshift=45pt]TH.east);
\draw[agg] (CV.south) .. controls (2800,3200) and (3300,5000) .. ([yshift=50pt]PR.west);
\draw[agg] (FC.south) .. controls (2520,2600) and (1900,2900) .. ([yshift=0pt]TH.east);
\draw[agg] ([xshift=-16pt]SUB.north) .. controls (4190,6150) and (4180,6100) .. ([xshift=-55pt]PR.south);
\draw[agg] ([xshift=10pt]PR.south) .. controls (4280,6150) and (4270,6200) .. ([xshift=28pt]SUB.north);
\draw[agg] ([yshift=31pt]PR.east) .. controls +(17pt,-8pt) and +(17pt,8pt) .. ([yshift=-56pt]PR.east);

% ---------------- labels ----------------
\node[lbl] (a1) at (1258,201) {-m_Lock};
\node[lbl] (a2) at (240,1408) {-m_Lock};
\node[lbl] (a3) at (437,1694) {-m_First\\-m_Last};
\node[lbl] (a4) at (490,1415) {+m_Next\\+m_Previous};
\node[lbl] (a5) at (640,1694) {-m_AffinityWaiters\\-m_EventSenderDrainWaiters\\-m_EventWaiters\\-m_ExternalLeaseWaiters\\-m_JoinWaiters};
\node[lbl] (a6) at (809,1694) {+allowed};
\node[lbl] (a7) at (1078,1694) {-m_Kernel\\-m_User};
\node[lbl] (a8) at (350,2104) {-m_First\\-m_Last};
\node[lbl] (a9) at (849,2104) {-m_RequestedAffinity};
\node[lbl] (a10) at (1805,2104) {+next};
\node[lbl] (a11) at (1960,2104) {-m_pInputUserStack};
\node[lbl] (a12) at (2075,2104) {+thread};
\node[lbl] (a13) at (2394,1224) {-m_pFirstWaiter\\-m_pLastWaiter};
\node[lbl] (a14) at (2479,1224) {+queue};
\node[lbl] (a15) at (2250,1224) {-m_Waiters};
\node[lbl] (a16) at (2747,1224) {-m_Waiters};
\node[lbl] (a17) at (2855,1224) {+channel};
\node[lbl] (a18) at (4673,2563) {-m_Name};
\node[lbl] (a19) at (5048,2563) {-m_ChildStateWaiters\\-m_ExecWaiters\\-m_ExternalLeaseWaiters\\-m_SuspensionWaiters\\-m_TerminationWaiters\\-m_ThreadJoinWaiters};
\node[lbl] (a20) at (4604,3240) {-m_FullName\\-m_Home\\-m_Shell\\-m_Username};
\node[lbl] (a21) at (1790,3219) {-m_AffinityNext\\-m_pReadyNext\\-m_pReadyPrev};
\node[lbl] (a22) at (2535,4397) {-m_pParent};
\node[lbl] (a23) at (2717,4397) {-m_pExecOwner\\-m_pReservedTerminalOwner\\-m_pTerminatingThread};
\node[lbl] (a24) at (1148,3867) {+thread};
\node[lbl] (a25) at (1284,4397) {+next};
\node[lbl] (a26) at (1104,4915) {-m_Head\\-m_Stub\\-m_Tail};
\node[lbl] (a27) at (1479,4915) {-m_AffinityHead\\-m_AffinityTail\\-m_pIdleThread};
\node[lbl] (a28) at (1927,4915) {-m_pScheduler};
\node[lbl] (a29) at (2220,4915) {-m_Pending};
\node[lbl] (a30) at (2361,4915) {-m_NextTid};
\node[lbl] (a31) at (2477,4915) {-m_Threads};
\node[lbl] (a32) at (3091,4915) {-m_FilesystemContextLock};
\node[lbl] (a33) at (1268,5542) {-m_DeferredThreadReapStub};
\node[lbl] (a34) at (1807,5550) {-m_NewThreadWorker\\-m_TimeAccountingWorker};
\node[lbl] (a35) at (2157,5560) {-m_AffinityRequests\\-m_DeferredThreadReapPublication\\State\\-m_IrqWorkDoorbell\\-m_StopTimeAccountingWorker\\-m_pDeferredThreadReaps};
\node[lbl] (a36) at (2528,5542) {-m_pNext};
\node[lbl] (a37) at (2707,5542) {-m_NewThreadDataLock};
\node[lbl] (a38) at (4150,4915) {-m_ChildTransition};
\node[lbl] (a39) at (4297,4915) {-m_Metadata};
\node[lbl] (a40) at (4486,4915) {-m_PerCpuTimeAccounting};
\node[lbl] (a41) at (4710,4925) {-m_pEffectiveUser\\-m_pUser};
\node[lbl] (a42) at (4872,4396) {-m_pEffectiveGroup\\-m_pGroup};
\node[lbl] (a43) at (5234,4915) {-m_DeferredTimeAccounting};
\node[lbl] (a44) at (5454,4915) {-m_UserspaceNamespace};
\node[lbl] (a45) at (5645,4915) {-str};
\node[lbl] (a46) at (5866,4930) {-m_pAddressSpace\\-m_pVforkPrivateAddress\\Space};
\node[lbl] (a47) at (6060,4915) {-m_VforkCompletion};
\node[lbl] (a48) at (4207,6050) {-m_pSubsystem};
\node[lbl] (a49) at (4340,6050) {\#m_pProcess};
\end{tikzpicture}
\end{document}
